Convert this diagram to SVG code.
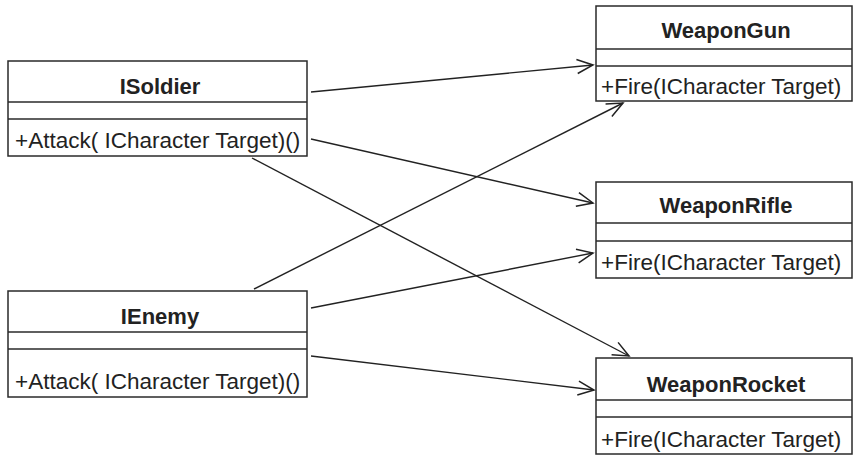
<svg xmlns="http://www.w3.org/2000/svg" width="862" height="462" viewBox="0 0 862 462">
<style>
.box{fill:#fff;stroke:#2a2a2a;stroke-width:1.5}
.sep{stroke:#2a2a2a;stroke-width:1.3}
.name{font-family:"Liberation Sans",Arial,sans-serif;font-weight:bold;font-size:22px;fill:#222;text-anchor:middle}
.op{font-family:"Liberation Sans",Arial,sans-serif;font-size:22.5px;fill:#222}
.conn{stroke:#222;stroke-width:1.4;fill:none;marker-end:url(#open)}
</style>
<defs>
<marker id="open" markerUnits="userSpaceOnUse" markerWidth="20" markerHeight="18" viewBox="-17 -9 20 18" refX="0" refY="0" orient="auto">
<path d="M-16,-7 L0,0 L-16,7" fill="none" stroke="#222" stroke-width="1.5"/>
</marker>
</defs>
<rect width="862" height="462" fill="#fff"/>
<g id="ISoldier">
<rect class="box" x="8" y="61" width="299" height="95"/>
<line class="sep" x1="8" y1="102" x2="307" y2="102"/>
<line class="sep" x1="8" y1="119" x2="307" y2="119"/>
<text class="name" x="160" y="94">ISoldier</text>
<text class="op" x="15" y="148">+Attack( ICharacter Target)()</text>
</g>
<g id="IEnemy">
<rect class="box" x="8" y="291" width="299" height="106"/>
<line class="sep" x1="8" y1="332" x2="307" y2="332"/>
<line class="sep" x1="8" y1="349" x2="307" y2="349"/>
<text class="name" x="160" y="324">IEnemy</text>
<text class="op" x="15" y="389">+Attack( ICharacter Target)()</text>
</g>
<g id="WeaponGun">
<rect class="box" x="596" y="6" width="256" height="95"/>
<line class="sep" x1="596" y1="49" x2="852" y2="49"/>
<line class="sep" x1="596" y1="66" x2="852" y2="66"/>
<text class="name" x="726" y="38">WeaponGun</text>
<text class="op" x="601" y="94">+Fire(ICharacter Target)</text>
</g>
<g id="WeaponRifle">
<rect class="box" x="596" y="182" width="256" height="96"/>
<line class="sep" x1="596" y1="223" x2="852" y2="223"/>
<line class="sep" x1="596" y1="241" x2="852" y2="241"/>
<text class="name" x="726" y="213">WeaponRifle</text>
<text class="op" x="601" y="270">+Fire(ICharacter Target)</text>
</g>
<g id="WeaponRocket">
<rect class="box" x="596" y="358" width="256" height="96"/>
<line class="sep" x1="596" y1="400" x2="852" y2="400"/>
<line class="sep" x1="596" y1="417" x2="852" y2="417"/>
<text class="name" x="726" y="392">WeaponRocket</text>
<text class="op" x="601" y="447">+Fire(ICharacter Target)</text>
</g>
<g id="connectors">
<line class="conn" x1="311" y1="92" x2="593" y2="65"/>
<line class="conn" x1="311" y1="139" x2="593" y2="203"/>
<line class="conn" x1="252" y1="158" x2="629" y2="356"/>
<line class="conn" x1="254" y1="289" x2="623" y2="103"/>
<line class="conn" x1="311" y1="308" x2="593" y2="253"/>
<line class="conn" x1="311" y1="356" x2="594" y2="390"/>
</g>
</svg>
